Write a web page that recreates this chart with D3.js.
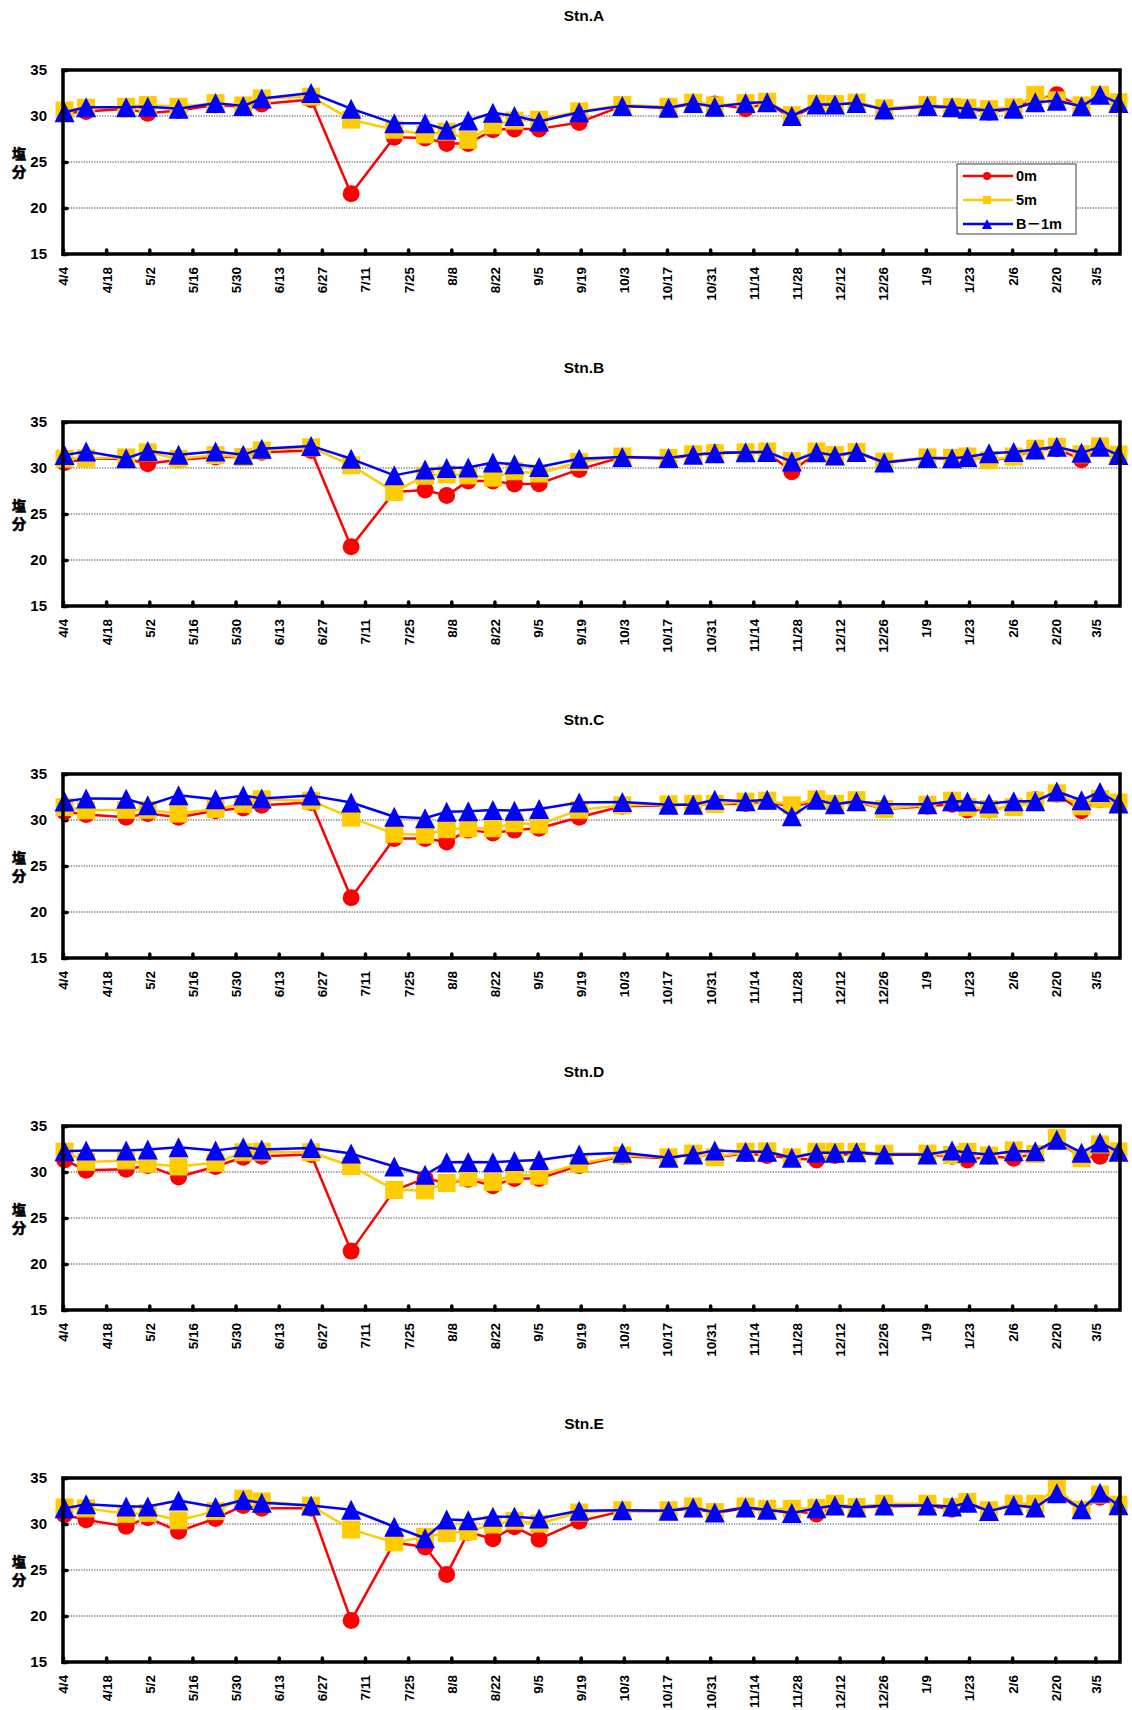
<!DOCTYPE html>
<html>
<head>
<meta charset="utf-8">
<script src="https://cdn.jsdelivr.net/npm/d3@7"></script>
<style>
  html, body { margin: 0; padding: 0; background: #fff; }
  svg { display: block; }
  text { font-family: "Liberation Sans", Arial, "Noto Sans CJK JP", sans-serif; font-weight: bold; fill: #000; }
</style>
</head>
<body>
<svg id="chart" width="1132" height="1710"></svg>
<script>
// Sampling dates (month/day, April through March of the following year)
const sampleDates = ["4/4","4/11","4/24","5/1","5/11","5/23","6/1","6/7","6/23","7/6",
  "7/20","7/30","8/6","8/13","8/21","8/28","9/5","9/18","10/2","10/17",
  "10/25","11/1","11/11","11/18","11/26","12/4","12/10","12/17","12/26","1/9",
  "1/17","1/22","1/29","2/6","2/13","2/20","2/28","3/6","3/12"];

// Biweekly tick labels on the date axis
const tickLabels = ["4/4","4/18","5/2","5/16","5/30","6/13","6/27","7/11","7/25","8/8",
  "8/22","9/5","9/19","10/3","10/17","10/31","11/14","11/28","12/12","12/26",
  "1/9","1/23","2/6","2/20","3/5"];

const yTicks = [15, 20, 25, 30, 35];
const gridValues = [20, 25, 30];

const stations = ["Stn.A", "Stn.B", "Stn.C", "Stn.D", "Stn.E"];
const seriesNames = ["0m", "5m", "B\uFF0D1m"];

// Salinity at 0 m
const stnA_0m = [30.3,30.5,30.8,30.3,30.6,31.2,31.0,31.3,31.8,21.55,27.7,27.6,27.0,27.0,28.5,28.6,28.6,29.3,31.1,30.9,31.3,31.3,30.8,31.4,29.8,31.2,31.2,31.5,30.7,31.0,30.9,30.8,30.4,30.8,31.8,32.3,31.0,32.2,31.4];
const stnB_0m = [30.6,31.0,31.0,30.45,30.9,31.2,31.2,31.7,31.9,21.45,27.4,27.6,27.0,28.6,28.6,28.25,28.3,29.85,31.2,31.0,31.4,31.7,31.7,31.7,29.6,31.7,31.3,31.7,30.6,31.1,31.0,31.3,30.8,31.2,32.0,32.1,30.9,32.2,31.4];
const stnC_0m = [30.9,30.6,30.3,30.7,30.3,31.0,31.3,31.6,31.9,21.55,28.0,28.0,27.6,28.9,28.6,28.9,29.1,30.3,31.5,31.6,31.7,31.7,31.8,32.0,31.4,32.1,31.7,32.0,31.2,31.5,31.7,31.1,31.1,31.5,32.2,32.8,31.0,32.2,31.8];
const stnD_0m = [31.3,30.2,30.3,30.7,29.45,30.6,31.6,31.7,31.9,21.4,28.0,29.3,28.8,29.2,28.5,29.3,29.3,30.7,31.7,31.5,32.0,31.6,32.0,31.8,31.5,31.3,31.8,32.0,31.9,31.9,31.7,31.3,31.7,31.5,32.0,33.5,31.5,31.7,32.1];
const stnE_0m = [31.0,30.45,29.75,30.7,29.2,30.6,32.0,31.7,31.7,19.5,28.0,27.5,24.5,29.1,28.4,29.7,28.35,30.3,31.4,31.4,31.7,31.2,31.7,31.5,31.4,31.1,31.9,31.8,31.9,32.0,31.6,32.2,31.4,32.0,31.9,33.3,31.5,32.9,32.0];

// Salinity at 5 m
const stnA_5m = [30.6,30.9,31.0,31.2,31.0,31.4,31.15,31.9,32.1,29.6,28.5,28.0,28.3,27.4,29.0,29.5,29.6,30.5,31.2,31.0,31.45,31.15,31.4,31.55,30.1,31.35,31.3,31.45,30.85,31.2,31.0,30.9,30.75,30.95,32.3,31.7,31.15,32.3,31.5];
const stnB_5m = [31.0,31.05,31.15,31.7,31.0,31.4,31.2,31.9,32.25,30.3,27.4,29.15,29.3,29.2,28.95,29.65,29.4,30.65,31.25,31.1,31.5,31.6,31.7,31.8,30.75,31.8,31.4,31.75,30.7,31.15,31.1,31.25,30.85,31.25,32.1,32.3,31.5,32.35,31.45];
const stnC_5m = [31.4,31.05,31.1,31.1,30.7,31.2,31.75,32.25,32.1,30.25,28.5,28.4,29.0,29.1,29.1,29.65,29.5,31.1,31.6,31.7,31.75,31.75,32.0,32.1,31.6,32.25,31.75,32.15,31.2,31.65,32.1,31.4,31.2,31.4,32.1,32.9,31.5,32.3,31.9];
const stnD_5m = [32.2,31.1,31.25,30.9,30.6,31.0,32.15,32.2,32.15,30.65,28.05,28.0,28.8,29.4,28.9,29.75,29.6,30.9,31.8,31.6,32.0,31.6,32.2,32.25,31.6,32.2,32.2,32.2,32.0,32.0,31.85,32.2,31.8,32.35,31.95,33.7,31.5,33.0,32.25];
const stnE_5m = [31.8,31.7,31.1,31.2,30.4,31.4,32.75,32.45,32.0,29.4,28.0,28.6,29.0,29.2,29.95,30.35,30.05,31.25,31.5,31.5,31.9,31.3,31.9,31.65,31.65,31.75,32.2,31.85,32.2,32.2,31.85,32.4,31.5,32.2,32.2,33.9,31.55,33.2,32.1];

// Salinity 1 m above the bottom
const stnA_B1m = [30.4,30.95,30.95,31.0,30.8,31.4,31.1,31.9,32.5,30.8,29.2,29.2,28.5,29.5,30.35,30.0,29.4,30.4,31.1,30.9,31.4,31.0,31.4,31.5,30.0,31.25,31.25,31.4,30.7,31.1,30.95,30.8,30.6,30.8,31.5,31.65,31.05,32.3,31.4];
const stnB_B1m = [31.4,31.8,31.05,31.85,31.45,31.8,31.45,32.1,32.4,31.0,29.2,29.85,30.0,30.05,30.6,30.4,30.1,31.0,31.2,31.1,31.45,31.6,31.7,31.75,30.7,31.7,31.35,31.75,30.6,31.1,31.05,31.2,31.6,31.75,32.0,32.3,31.65,32.3,31.4];
const stnC_B1m = [32.0,32.35,32.3,31.6,32.7,32.25,32.65,32.35,32.65,31.9,30.35,30.2,30.9,30.95,31.1,31.0,31.2,31.9,31.95,31.65,31.65,32.2,32.05,32.2,30.4,32.2,31.7,32.05,31.7,31.7,32.05,32.0,31.8,32.05,32.05,33.1,32.15,33.05,31.8];
const stnD_B1m = [32.25,32.35,32.35,32.45,32.7,32.35,32.7,32.45,32.6,32.0,30.6,29.7,31.05,31.1,31.05,31.2,31.3,31.9,32.1,31.55,31.9,32.35,32.2,32.2,31.55,32.1,32.1,32.15,31.9,31.9,32.35,32.1,31.9,32.25,32.25,33.5,32.1,33.2,32.2];
const stnE_B1m = [31.7,32.15,31.9,31.9,32.55,31.85,32.6,32.3,32.0,31.55,29.7,28.45,30.5,30.4,30.8,30.8,30.6,31.45,31.5,31.45,31.8,31.25,31.8,31.55,31.2,31.7,32.0,31.8,32.0,32.0,31.9,32.3,31.4,32.05,31.8,33.35,31.6,33.4,32.05];

const values0m = [stnA_0m, stnB_0m, stnC_0m, stnD_0m, stnE_0m];
const values5m = [stnA_5m, stnB_5m, stnC_5m, stnD_5m, stnE_5m];
const valuesB1m = [stnA_B1m, stnB_B1m, stnC_B1m, stnD_B1m, stnE_B1m];

// ---- layout & style ----
const colors = ["#FF0000", "#FFCC00", "#0000FF"];
const shapes = ["circle", "square", "triangle"];
const plotLeft = 63, plotRight = 1120, plotH = 184;
const firstTop = 70, panelStep = 352;

// months Apr-Dec belong to the first year, Jan-Mar to the next
function toDate(s, hour) {
  const [m, d] = s.split("/").map(Number);
  return new Date(m >= 4 ? 2010 : 2011, m - 1, d, hour);
}
// samples sit in the middle of their day on the date axis
const sampleTimes = sampleDates.map(s => toDate(s, 12));
const tickTimes = tickLabels.map(s => toDate(s, 0));

const x = d3.scaleTime()
  .domain([new Date(2010, 3, 4), new Date(2011, 2, 13)])
  .range([plotLeft, plotRight]);

const svg = d3.select("#chart");

function markerPath(shape, s) {
  if (shape === "circle") {
    const r = s / 2;
    return `M${-r},0A${r},${r} 0 1,0 ${r},0A${r},${r} 0 1,0 ${-r},0Z`;
  }
  if (shape === "square") {
    const h = s / 2;
    return `M${-h},${-h}H${h}V${h}H${-h}Z`;
  }
  const h = s / 2;
  return `M0,${-h}L${h},${h}L${-h},${h}Z`;
}
const markerSize = { circle: 17, square: 18, triangle: 20 };

stations.forEach((name, i) => {
  const top = firstTop + i * panelStep;
  const bottom = top + plotH;
  const y = d3.scaleLinear().domain([15, 35]).range([bottom, top]);
  const g = svg.append("g");

  // title
  g.append("text")
    .attr("x", 584).attr("y", top - 55)
    .attr("text-anchor", "middle").attr("dominant-baseline", "central")
    .style("font-size", "15.5px")
    .text(name);

  // horizontal dotted gridlines
  g.append("g").selectAll("line").data(gridValues).join("line")
    .attr("x1", plotLeft).attr("x2", plotRight)
    .attr("y1", d => y(d)).attr("y2", d => y(d))
    .attr("stroke", "#808080").attr("stroke-width", 1.3)
    .attr("stroke-dasharray", "1.3,1.3");

  // y axis (inside ticks)
  const yAxis = g.append("g")
    .attr("transform", `translate(${plotLeft},0)`)
    .call(d3.axisLeft(y).tickValues(yTicks).tickSize(-4).tickPadding(16));
  yAxis.select(".domain").remove();
  yAxis.selectAll(".tick line").attr("stroke", "#000").attr("stroke-width", 3.5).attr("stroke-linecap", "round");
  yAxis.selectAll(".tick text")
    .style("font-size", "15px")
    .style("font-family", "'Liberation Sans', Arial, sans-serif")
    .style("font-weight", "bold")
    .attr("fill", "#000");

  // x axis (inside ticks, vertical labels)
  const xAxis = g.append("g")
    .attr("transform", `translate(0,${bottom})`)
    .call(d3.axisBottom(x).tickValues(tickTimes)
      .tickFormat((d, k) => tickLabels[k]).tickSize(-4));
  xAxis.select(".domain").remove();
  xAxis.selectAll(".tick line").attr("stroke", "#000").attr("stroke-width", 3.5).attr("stroke-linecap", "round");
  xAxis.selectAll(".tick text")
    .attr("transform", "rotate(-90)")
    .attr("x", -13).attr("y", 0).attr("dy", "0.36em")
    .attr("text-anchor", "end")
    .style("font-size", "13.5px")
    .style("font-family", "'Liberation Sans', Arial, sans-serif")
    .style("font-weight", "bold")
    .attr("fill", "#000");

  // y axis title, two stacked characters
  ["塩", "分"].forEach((ch, k) => {
    g.append("text")
      .attr("x", 19).attr("y", (top + bottom) / 2 + (k === 0 ? -9 : 9))
      .attr("text-anchor", "middle").attr("dominant-baseline", "central")
      .style("font-family", "'Noto Sans CJK JP', sans-serif").style("font-size", "14px")
      .attr("stroke", "#000").attr("stroke-width", 0.7)
      .text(ch);
  });

  // series: line then markers, drawn 0m, 5m, B-1m
  const series = [values0m[i], values5m[i], valuesB1m[i]];
  series.forEach((vals, s) => {
    const pts = vals.map((v, k) => ({ t: sampleTimes[k], v }));
    const line = d3.line().x(d => x(d.t)).y(d => y(d.v));
    g.append("path").datum(pts)
      .attr("d", line)
      .attr("fill", "none")
      .attr("stroke", colors[s])
      .attr("stroke-width", 2.5)
      .attr("stroke-linejoin", "round");
    g.append("g").selectAll("path").data(pts).join("path")
      .attr("transform", d => `translate(${x(d.t)},${y(d.v)})`)
      .attr("d", markerPath(shapes[s], markerSize[shapes[s]]))
      .attr("fill", colors[s]);
  });

  // plot frame
  g.append("rect")
    .attr("x", plotLeft).attr("y", top)
    .attr("width", plotRight - plotLeft).attr("height", plotH)
    .attr("fill", "none").attr("stroke", "#000").attr("stroke-width", 3.5);

  // legend (first panel only)
  if (i === 0) {
    const lg = g.append("g").attr("transform", "translate(957,164)");
    lg.append("rect").attr("width", 119).attr("height", 70)
      .attr("fill", "#fff").attr("stroke", "#404040").attr("stroke-width", 1);
    seriesNames.forEach((label, s) => {
      const cy = 12 + s * 24;
      lg.append("line").attr("x1", 6).attr("x2", 56).attr("y1", cy).attr("y2", cy)
        .attr("stroke", colors[s]).attr("stroke-width", 2.5);
      lg.append("path").attr("transform", `translate(30,${cy})`)
        .attr("d", markerPath(shapes[s], shapes[s] === "triangle" ? 10 : 8))
        .attr("fill", colors[s]);
      lg.append("text").attr("x", 59).attr("y", cy)
        .attr("dominant-baseline", "central")
        .style("font-size", "14.5px")
        .text(label);
    });
  }
});
</script>
</body>
</html>
